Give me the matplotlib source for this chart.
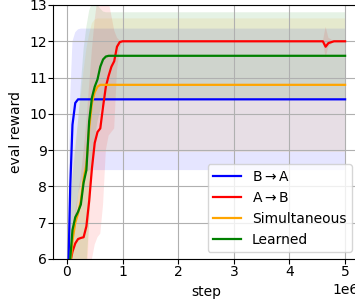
import numpy as np
import matplotlib
matplotlib.use("Agg")
import matplotlib.pyplot as plt

# steps in millions
steps = [0, 0.03, 0.06, 0.1, 0.15, 0.2, 0.25, 0.3,
         0.35, 0.4, 0.45, 0.5, 0.55, 0.6, 0.65, 0.7,
         0.75, 0.8, 0.85, 0.9, 0.95, 1.0, 1.1, 1.5,
         2.0, 3.0, 4.0, 4.6, 4.65, 4.7, 4.8, 5.0]

blue_mean = [4.0, 6.0, 8.0, 9.7, 10.3, 10.4, 10.4, 10.4,
             10.4, 10.4, 10.4, 10.4, 10.4, 10.4, 10.4, 10.4,
             10.4, 10.4, 10.4, 10.4, 10.4, 10.4, 10.4, 10.4,
             10.4, 10.4, 10.4, 10.4, 10.4, 10.4, 10.4, 10.4]
blue_lo = [3.0, 4.5, 5.5, 6.3, 7.0, 7.8, 8.1, 8.3,
           8.4, 8.45, 8.45, 8.45, 8.45, 8.45, 8.45, 8.45,
           8.45, 8.45, 8.45, 8.45, 8.45, 8.45, 8.45, 8.45,
           8.45, 8.45, 8.45, 8.45, 8.45, 8.45, 8.45, 8.45]
blue_hi = [5.0, 8.0, 10.5, 12.0, 12.25, 12.33, 12.35, 12.35,
           12.35, 12.35, 12.35, 12.35, 12.35, 12.35, 12.35, 12.35,
           12.35, 12.35, 12.35, 12.35, 12.35, 12.35, 12.35, 12.35,
           12.35, 12.35, 12.35, 12.35, 12.35, 12.35, 12.35, 12.35]

red_mean = [4.0, 5.0, 5.9, 6.2, 6.43, 6.55, 6.58, 6.6,
            6.9, 7.6, 8.5, 9.2, 9.5, 9.6, 10.2, 10.75,
            11.05, 11.3, 11.45, 11.85, 11.98, 12.0, 12.0, 12.0,
            12.0, 12.0, 12.0, 12.0, 11.85, 11.95, 12.0, 12.0]
red_lo = [3.0, 3.3, 3.6, 3.9, 4.1, 4.3, 4.4, 4.5,
          4.9, 5.3, 6.0, 6.4, 6.6, 6.7, 7.5, 9.0,
          9.4, 9.5, 9.6, 11.2, 11.8, 12.0, 12.0, 12.0,
          12.0, 12.0, 12.0, 12.0, 11.55, 11.85, 12.0, 12.0]
red_hi = [5.0, 5.8, 6.3, 6.8, 7.3, 7.8, 8.3, 9.0,
          9.8, 10.8, 11.8, 12.6, 13.2, 13.4, 13.4, 13.3,
          13.1, 12.7, 12.3, 12.1, 12.02, 12.0, 12.0, 12.0,
          12.0, 12.0, 12.0, 12.0, 12.4, 12.1, 12.0, 12.0]

orange_mean = [4.5, 5.2, 5.8, 6.5, 7.0, 7.25, 7.6, 8.2,
               8.6, 9.6, 10.3, 10.6, 10.75, 10.8, 10.8, 10.8,
               10.8, 10.8, 10.8, 10.8, 10.8, 10.8, 10.8, 10.8,
               10.8, 10.8, 10.8, 10.8, 10.8, 10.8, 10.8, 10.8]
orange_lo = [3.0, 3.2, 3.4, 3.7, 4.0, 4.2, 4.4, 4.6,
             5.0, 7.0, 8.5, 8.95, 8.95, 8.95, 8.95, 8.95,
             8.95, 8.95, 8.95, 8.95, 8.95, 8.95, 8.95, 8.95,
             8.95, 8.95, 8.95, 8.95, 8.95, 8.95, 8.95, 8.95]
orange_hi = [5.5, 6.5, 7.5, 8.5, 9.2, 9.8, 10.5, 11.2,
             11.8, 12.2, 12.5, 12.6, 12.63, 12.63, 12.63, 12.63,
             12.63, 12.63, 12.63, 12.63, 12.63, 12.63, 12.63, 12.63,
             12.63, 12.63, 12.63, 12.63, 12.63, 12.63, 12.63, 12.63]

green_mean = [4.5, 5.3, 6.0, 6.8, 7.15, 7.3, 7.5, 8.1,
              8.45, 9.8, 10.45, 10.75, 10.95, 11.3, 11.5, 11.58,
              11.6, 11.6, 11.6, 11.6, 11.6, 11.6, 11.6, 11.6,
              11.6, 11.6, 11.6, 11.6, 11.6, 11.6, 11.6, 11.6]
green_lo = [3.0, 3.3, 3.6, 3.9, 4.2, 4.4, 4.6, 4.8,
            5.8, 7.0, 8.5, 9.3, 9.8, 10.1, 10.3, 10.4,
            10.4, 10.4, 10.4, 10.4, 10.4, 10.4, 10.4, 10.4,
            10.4, 10.4, 10.4, 10.4, 10.4, 10.4, 10.4, 10.4]
green_hi = [6.0, 6.8, 7.5, 8.3, 9.0, 9.8, 10.8, 11.8,
            12.4, 12.85, 13.05, 13.1, 13.0, 12.9, 12.82, 12.8,
            12.8, 12.8, 12.8, 12.8, 12.8, 12.8, 12.8, 12.8,
            12.8, 12.8, 12.8, 12.8, 12.8, 12.8, 12.8, 12.8]

series = [
    ("B$\\rightarrow$A", "blue", blue_mean, blue_lo, blue_hi),
    ("A$\\rightarrow$B", "red", red_mean, red_lo, red_hi),
    ("Simultaneous", "orange", orange_mean, orange_lo, orange_hi),
    ("Learned", "green", green_mean, green_lo, green_hi),
]

x = np.array(steps) * 1e6

fig = plt.figure(figsize=(3.55, 3.01), dpi=100)
ax = fig.add_axes([53 / 355, 42 / 301, 306 / 355, 254 / 301])

for label, color, mean, lo, hi in series:
    ax.plot(x, mean, color=color, lw=1.6, label=label)
    ax.fill_between(x, lo, hi, color=color, alpha=0.1, linewidth=0)

ax.set_ylim(6, 13)
ax.set_xlabel("step", fontsize=10)
ax.set_ylabel("eval reward", fontsize=10)
ax.tick_params(labelsize=10, pad=1)
ax.grid(True)
ax.legend(loc="lower right", fontsize=10)

fig.savefig("out.png", dpi=100)
